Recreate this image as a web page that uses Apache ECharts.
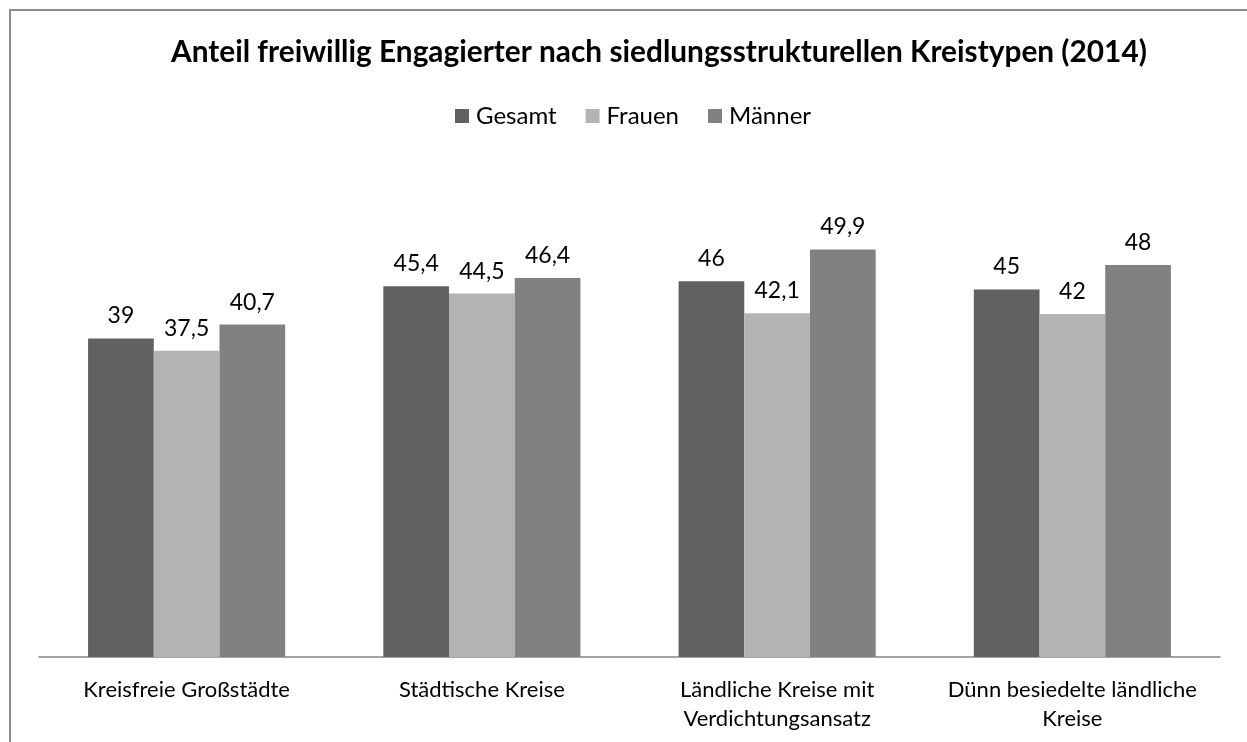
<!DOCTYPE html>
<html>
<head>
<meta charset="utf-8">
<script src="https://cdn.jsdelivr.net/npm/echarts@6/dist/echarts.min.js"></script>
<style>
html,body{margin:0;padding:0;background:#fff;}
#c{width:1247px;height:742px;}
</style>
</head>
<body>
<div id="c"></div>
<script>
const categories = ['Kreisfreie Großstädte', 'Städtische Kreise', 'Ländliche Kreise mit\nVerdichtungsansatz', 'Dünn besiedelte ländliche\nKreise'];
const gesamt = [39, 45.4, 46, 45];
const frauen = [37.5, 44.5, 42.1, 42];
const maenner = [40.7, 46.4, 49.9, 48];
const seriesNames = ['Gesamt', 'Frauen', 'Männer'];
const colors = ['#616161', '#b3b3b3', '#818181'];

const FONT = 'Lato, "Open Sans", sans-serif';
const chart = echarts.init(document.getElementById('c'), null, {renderer: 'canvas'});
const fmt = p => String(p.value).replace('.', ',');
const mk = (name, data, i) => ({
  name, type: 'bar', data, barWidth: 65.7, barGap: '0%',
  itemStyle: {color: colors[i]},
  label: {show: true, position: 'top', distance: 11, formatter: fmt,
          fontFamily: FONT, fontSize: 23, color: '#000'}
});
chart.setOption({
  animation: false,
  textStyle: {fontFamily: FONT},
  graphic: [{type: 'rect', shape: {x: 10, y: 10, width: 1300, height: 800},
    style: {fill: 'none', stroke: '#8c8c8c', lineWidth: 2}, z: 100}],
  title: {text: 'Anteil freiwillig Engagierter nach siedlungsstrukturellen Kreistypen (2014)',
    left: 166, top: 32,
    textStyle: {fontFamily: FONT, fontSize: 29.8, fontWeight: 'bold', color: '#000'}},
  legend: {top: 99, left: 450, itemWidth: 14, itemHeight: 14, itemGap: 29,
    icon: 'rect', textStyle: {fontFamily: FONT, fontSize: 24, color: '#000', padding: [0, 0, 0, 2]},
    data: seriesNames},
  grid: {left: 39, right: 27, top: 167, bottom: 85, containLabel: false},
  xAxis: {type: 'category', data: categories,
    axisLine: {lineStyle: {color: '#868686', width: 1.5}},
    axisTick: {show: false},
    axisLabel: {fontFamily: FONT, fontSize: 22, color: '#000', margin: 18, lineHeight: 29, interval: 0}},
  yAxis: {type: 'value', min: 0, max: 60, interval: 10, show: false,
    splitLine: {show: false}},
  series: [mk(seriesNames[0], gesamt, 0), mk(seriesNames[1], frauen, 1), mk(seriesNames[2], maenner, 2)]
});
</script>
</body>
</html>
